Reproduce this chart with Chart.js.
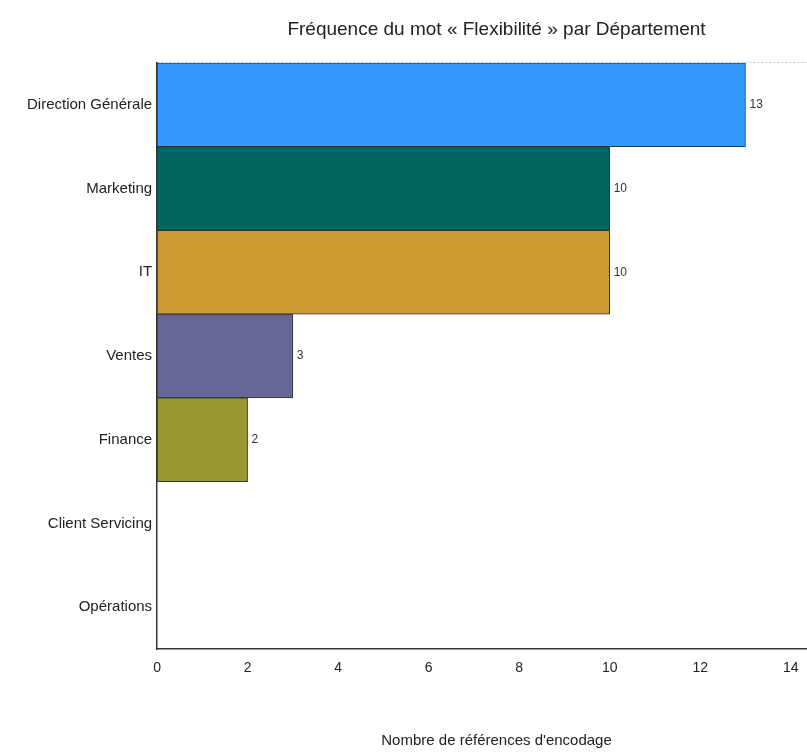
<!DOCTYPE html>
<html>
<head>
<meta charset="utf-8">
<script src="https://cdn.jsdelivr.net/npm/chart.js@4.4.1/dist/chart.umd.min.js"></script>
<style>
  html, body { margin: 0; padding: 0; background: #ffffff; overflow: hidden; }
  #wrap { width: 807px; height: 753px; overflow: hidden; }
  #c { display: block; }
</style>
</head>
<body>
<div id="wrap"><canvas id="c" width="850" height="753"></canvas></div>
<script>
const categories = ["Direction Générale", "Marketing", "IT", "Ventes", "Finance", "Client Servicing", "Opérations"];
const frequencies = [13, 10, 10, 3, 2, 0, 0];
const barColors = ["#3399FF", "#00665F", "#CC9933", "#666699", "#999933", "#999999", "#999999"];
const xTicks = [0, 2, 4, 6, 8, 10, 12, 14];
const xAxisMax = 15;
const chartTitle = "Fréquence du mot « Flexibilité » par Département";
const xAxisTitle = "Nombre de références d'encodage";

const FONT = '"Liberation Sans", Arial, sans-serif';

const valueLabels = {
  id: 'valueLabels',
  afterDatasetsDraw(chart) {
    const ctx = chart.ctx;
    const meta = chart.getDatasetMeta(0);
    ctx.save();
    ctx.font = '12px ' + FONT;
    ctx.fillStyle = '#333333';
    ctx.textAlign = 'left';
    ctx.textBaseline = 'middle';
    meta.data.forEach((el, i) => {
      const v = chart.data.datasets[0].data[i];
      if (v > 0) ctx.fillText(String(v), el.x + 4, el.y);
    });
    ctx.restore();
  }
};

new Chart(document.getElementById('c'), {
  type: 'bar',
  data: {
    labels: categories,
    datasets: [{
      data: frequencies,
      backgroundColor: barColors,
      borderColor: '#333333',
      borderWidth: 1,
      borderSkipped: false,
      barPercentage: 1.0,
      categoryPercentage: 1.0
    }]
  },
  options: {
    indexAxis: 'y',
    responsive: false,
    animation: false,
    devicePixelRatio: 1,
    layout: { padding: { left: 22, right: 14, top: 0, bottom: 3 } },
    plugins: {
      legend: { display: false },
      tooltip: { enabled: false },
      title: {
        display: true,
        text: chartTitle,
        fullSize: false,
        color: '#222222',
        font: { family: FONT, size: 19, weight: 'normal' },
        padding: { top: 18, bottom: 22 }
      }
    },
    scales: {
      x: {
        type: 'linear',
        min: 0,
        max: xAxisMax,
        afterBuildTicks(scale) { scale.ticks = xTicks.map(v => ({ value: v })); },
        grid: { display: false, drawTicks: false },
        border: { display: true, color: '#333333', width: 1.5 },
        ticks: {
          color: '#222222',
          padding: 11,
          font: { family: FONT, size: 14 }
        },
        title: {
          display: true,
          text: xAxisTitle,
          color: '#222222',
          font: { family: FONT, size: 15 },
          padding: { top: 44, bottom: 0 }
        }
      },
      y: {
        type: 'category',
        grid: {
          display: true,
          drawTicks: false,
          offset: true,
          color: (c) => c.index === 0 ? '#C8C8C8' : 'rgba(0,0,0,0)',
          lineWidth: 1
        },
        border: { display: true, color: '#333333', width: 1.5, dash: [2, 2] },
        ticks: {
          color: '#222222',
          padding: 5,
          font: { family: FONT, size: 15 }
        }
      }
    }
  },
  plugins: [valueLabels]
});
</script>
</body>
</html>
